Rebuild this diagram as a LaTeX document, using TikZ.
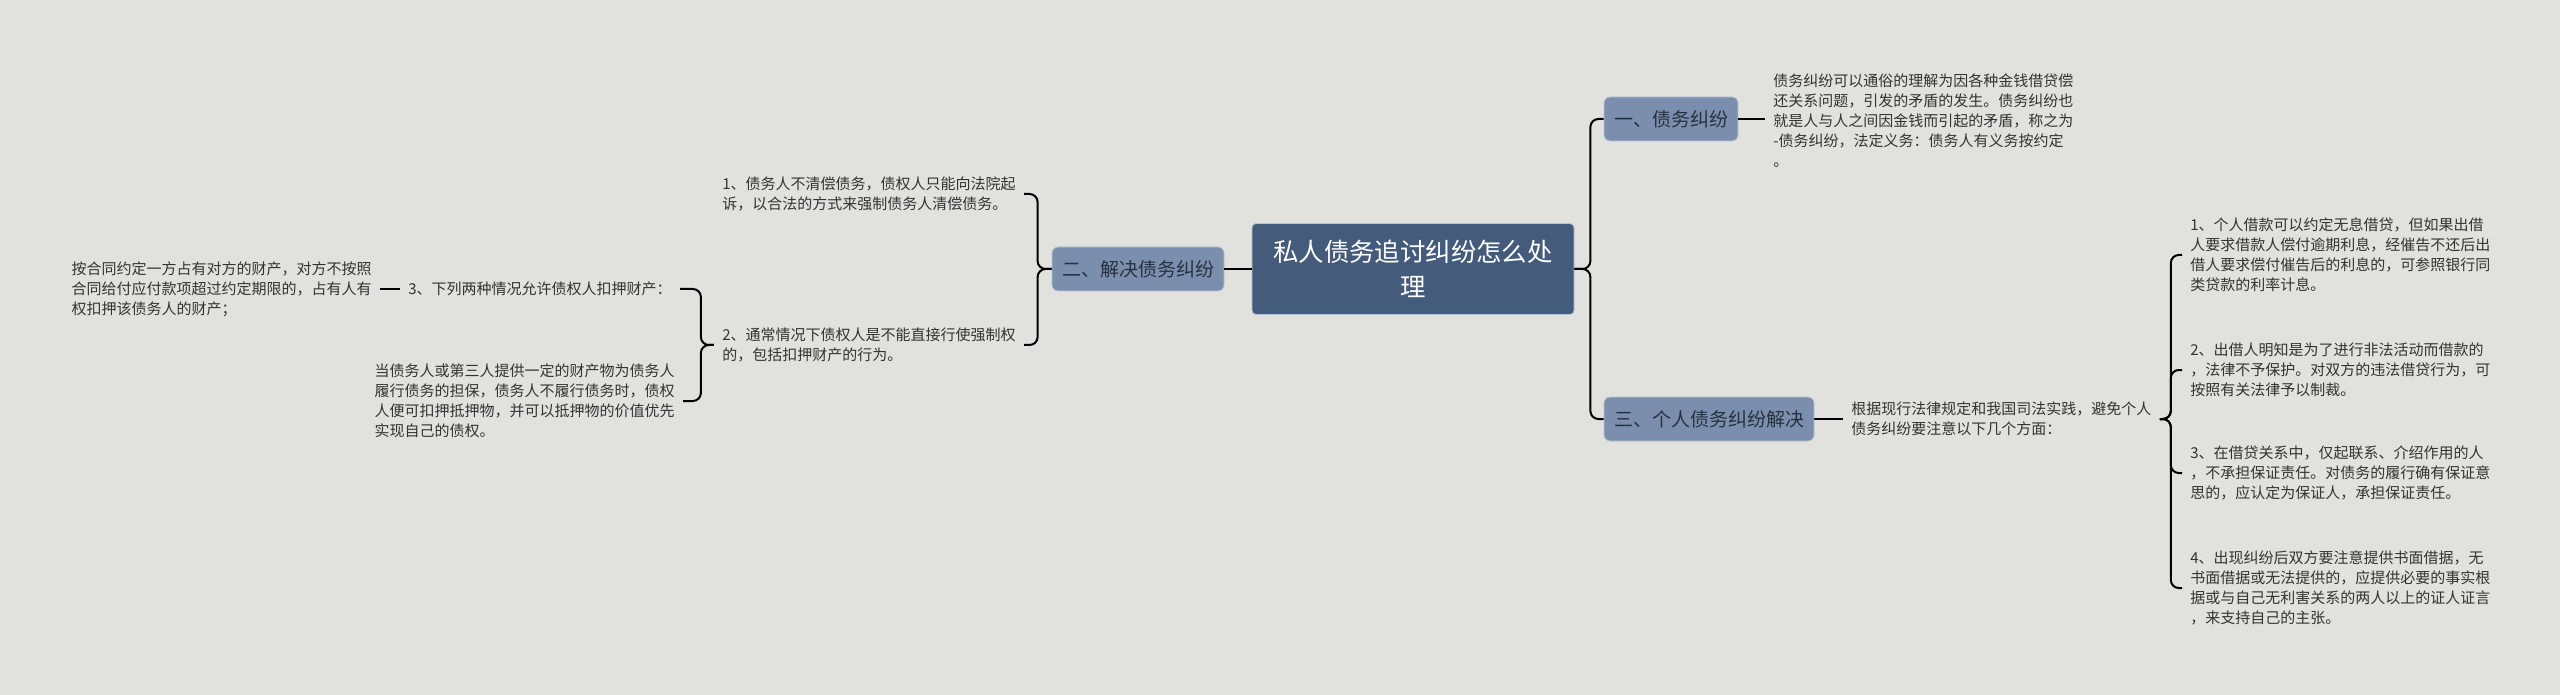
\documentclass[tikz,border=0pt]{standalone}
\usepackage{fontspec}
\setmainfont{Noto Sans CJK SC}
\usepackage{tikz}
\definecolor{mmpaper}  {HTML}{E1E1DD}
\definecolor{mmroot}   {HTML}{445B7C}
\definecolor{mmbox}    {HTML}{7B8EAD}
\definecolor{mmrim}    {HTML}{B9C4D4}
\definecolor{mmink}    {HTML}{333333}
\definecolor{mmdark}   {HTML}{27313F}
\tikzset{
  mmcentre/.style={fill=mmroot, draw=mmrim, rounded corners=2pt, text=white,
                   align=center, minimum width=161pt, minimum height=45.5pt,
                   font=\fontsize{12.7pt}{17.5pt}\selectfont},
  mmbranch/.style={fill=mmbox, draw=mmrim, rounded corners=3pt, text=mmdark,
                   inner xsep=5pt, minimum height=22pt,
                   font=\fontsize{9.5pt}{11pt}\selectfont},
  mmleaf/.style={text=mmink, align=left, inner sep=4pt,
                 font=\fontsize{7.5pt}{10pt}\selectfont},
  mmlink/.style={draw=black, line width=1pt, rounded corners=4pt},
}
\begin{document}
\begin{tikzpicture}[x=0.5pt,y=-0.5pt]
  \fill[mmpaper] (0,0) rectangle (2560,695);
  \useasboundingbox (0,0) rectangle (2560,695);
  \node[mmcentre] (root) at (1413,269) {私人债务追讨纠纷怎么处\\理};
  \node[mmbranch] (b1) at (1671,119) {一、债务纠纷};
  \node[mmbranch] (b2) at (1138,269) {二、解决债务纠纷};
  \node[mmbranch] (b3) at (1709,419) {三、个人债务纠纷解决};
  \node[mmleaf, anchor=west] (t1) at (1765,121)
    {债务纠纷可以通俗的理解为因各种金钱借贷偿\\还关系问题，引发的矛盾的发生。债务纠纷也\\
     就是人与人之间因金钱而引起的矛盾，称之为\\-债务纠纷，法定义务：债务人有义务按约定\\。};
  \node[mmleaf, anchor=west] (t3) at (1843,419)
    {根据现行法律规定和我国司法实践，避免个人\\债务纠纷要注意以下几个方面：};
  \node[mmleaf, anchor=west] (c1) at (2182,255)
    {1、个人借款可以约定无息借贷，但如果出借\\人要求借款人偿付逾期利息，经催告不还后出\\
     借人要求偿付催告后的利息的，可参照银行同\\类贷款的利率计息。};
  \node[mmleaf, anchor=west] (c2) at (2182,370)
    {2、出借人明知是为了进行非法活动而借款的\\，法律不予保护。对双方的违法借贷行为，可\\
     按照有关法律予以制裁。};
  \node[mmleaf, anchor=west] (c3) at (2182,473)
    {3、在借贷关系中，仅起联系、介绍作用的人\\，不承担保证责任。对债务的履行确有保证意\\
     思的，应认定为保证人，承担保证责任。};
  \node[mmleaf, anchor=west] (c4) at (2182,588)
    {4、出现纠纷后双方要注意提供书面借据，无\\书面借据或无法提供的，应提供必要的事实根\\
     据或与自己无利害关系的两人以上的证人证言\\，来支持自己的主张。};
  \node[mmleaf, anchor=east] (d1) at (1024,194)
    {1、债务人不清偿债务，债权人只能向法院起\\诉，以合法的方式来强制债务人清偿债务。};
  \node[mmleaf, anchor=east] (d2) at (1024,345)
    {2、通常情况下债权人是不能直接行使强制权\\的，包括扣押财产的行为。};
  \node[mmleaf, anchor=east] (e1) at (680,289) {3、下列两种情况允许债权人扣押财产：};
  \node[mmleaf, anchor=east] (e2) at (683,401)
    {当债务人或第三人提供一定的财产物为债务人\\履行债务的担保，债务人不履行债务时，债权\\
     人便可扣押抵押物，并可以抵押物的价值优先\\实现自己的债权。};
  \node[mmleaf, anchor=east] (f1) at (380,289)
    {按合同约定一方占有对方的财产，对方不按照\\合同给付应付款项超过约定期限的，占有人有\\
     权扣押该债务人的财产；};
  \draw[mmlink] (root.east) -- ++(16,0) |- (b1.west);
  \draw[mmlink] (root.east) -- ++(16,0) |- (b3.west);
  \draw[mmlink] (root.west) -- (b2.east);
  \draw[mmlink] (b1.east) -- (b1.east -| t1.west);
  \draw[mmlink] (b3.east) -- (t3.west);
  \foreach \c in {c1,c2,c3,c4}
    \draw[mmlink] (t3.east) -- ++(11,0) |- (\c.west);
  \foreach \d in {d1,d2}
    \draw[mmlink] (b2.west) -- ++(-14,0) |- (\d.east);
  \foreach \e in {e1,e2}
    \draw[mmlink] (d2.west) -- ++(-13,0) |- (\e.east);
  \draw[mmlink] (e1.west) -- (f1.east);
\end{tikzpicture}
\end{document}
